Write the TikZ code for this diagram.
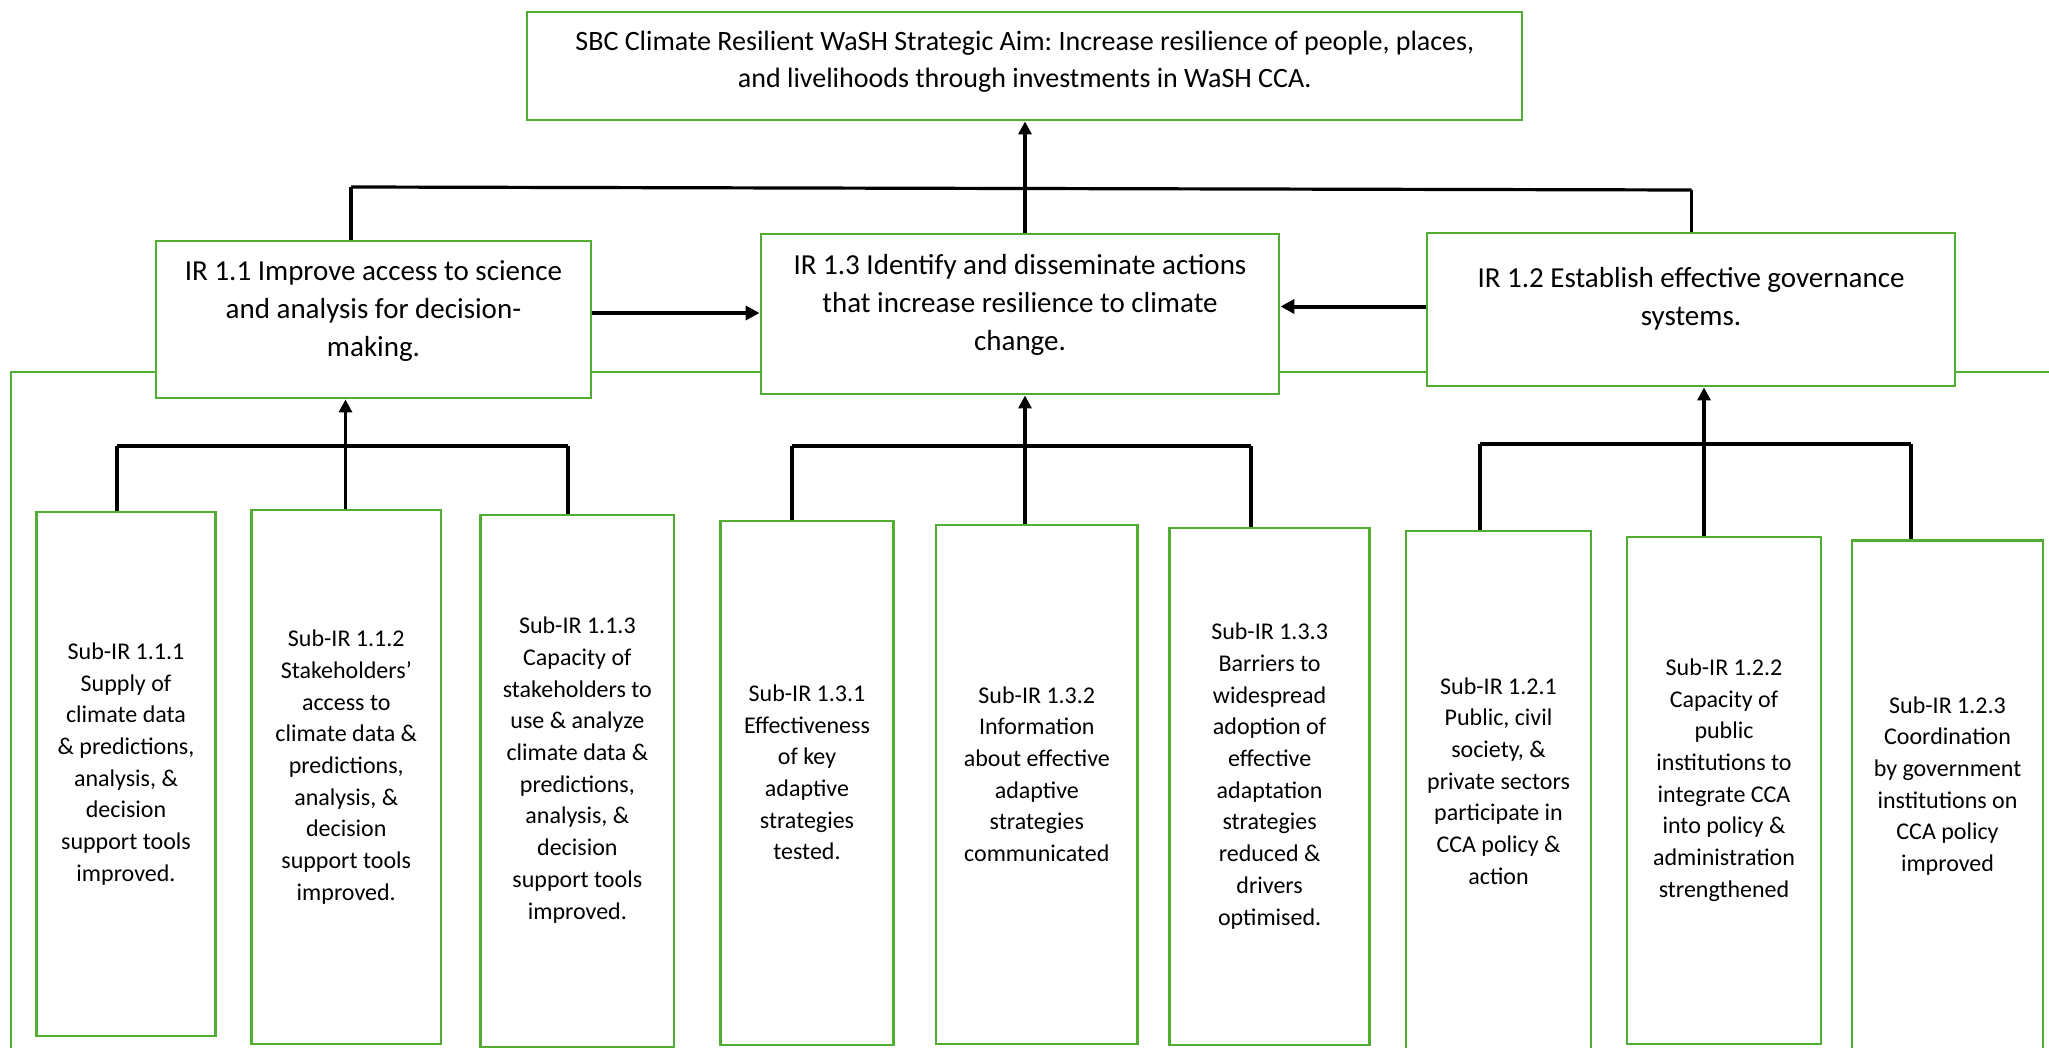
\documentclass[tikz,border=0pt]{standalone}
\usepackage{fontspec}
\setmainfont{Carlito}
\usetikzlibrary{arrows.meta}
\definecolor{boxgreen}{HTML}{52AE33}
\frenchspacing
\begin{document}
\begin{tikzpicture}[x=0.5pt,y=-0.5pt,
  box/.style={draw=boxgreen, line width=1.45pt, fill=white, inner sep=0pt},
  sz/.style 2 args={minimum width=#1*0.5pt, minimum height=#2*0.5pt},
  subtxt/.style={font=\fontsize{12}{15.85}\selectfont, align=center, inner sep=0pt},
  irtxt/.style={font=\fontsize{14.5}{19}\selectfont, align=center, inner sep=0pt},
  toptxt/.style={font=\fontsize{14}{18.4}\selectfont, align=center, inner sep=0pt},
  conn/.style={line width=1.6pt, black},
  harr/.style={line width=2pt, black, -{Triangle[length=7pt,width=7pt]}},
  varr/.style={conn, -{Triangle[length=6.5pt,width=6.5pt]}},
  frame/.style={draw=boxgreen, line width=1.45pt}]
\useasboundingbox (0,0) rectangle (2049,1048);
\fill[white] (0,0) rectangle (2049,1048);
% background green frame
\coordinate (fbl) at (11,1060);
\coordinate (ftl) at (11,372);
\coordinate (ftr) at (2070,372);
\draw[frame] (fbl) -- (ftl) -- (ftr);
% boxes
\node[box, sz={995}{108}] (top) at (1024.5,66) {};
\node[box, sz={435}{157}] (ir11) at (373.5,319.5) {};
\node[box, sz={518}{160}] (ir13) at (1020,314) {};
\node[box, sz={528}{153}] (ir12) at (1691,309.5) {};
\node[box, sz={179}{524}] (s111) at (126,774) {};
\node[box, sz={189.5}{534}] (s112) at (346.25,777) {};
\node[box, sz={193.3}{532}] (s113) at (577.35,781) {};
\node[box, sz={173}{524}] (s131) at (807,783) {};
\node[box, sz={201.6}{519}] (s132) at (1036.8,784.5) {};
\node[box, sz={199.8}{517}] (s133) at (1269.6,786.5) {};
\node[box, sz={185}{529}] (s121) at (1498.5,795.5) {};
\node[box, sz={194}{507}] (s122) at (1724,790.5) {};
\node[box, sz={191}{519.5}] (s123) at (1947.5,800.25) {};
% texts
\node[toptxt] (ttop) at (1024.8,61.9) {SBC Climate Resilient WaSH Strategic Aim: Increase resilience of people, places,\\and livelihoods through investments in WaSH CCA.};
\node[irtxt] (tir11) at (373.5,310.7) {IR 1.1 Improve access to science\\and analysis for decision-\\making.};
\node[irtxt] (tir13) at (1020,304.5) {IR 1.3 Identify and disseminate actions\\that increase resilience to climate\\change.};
\node[irtxt] (tir12) at (1691,298.7) {IR 1.2 Establish effective governance\\systems.};
\node[subtxt] (t111) at (126,764) {Sub-IR 1.1.1\\Supply of\\climate data\\\& predictions,\\analysis, \&\\decision\\support tools\\improved.};
\node[subtxt] (t112) at (346.25,767) {Sub-IR 1.1.2\\Stakeholders’\\access to\\climate data \&\\predictions,\\analysis, \&\\decision\\support tools\\improved.};
\node[subtxt] (t113) at (577.35,770) {Sub-IR 1.1.3\\Capacity of\\stakeholders to\\use \& analyze\\climate data \&\\predictions,\\analysis, \&\\decision\\support tools\\improved.};
\node[subtxt] (t131) at (807,772.5) {Sub-IR 1.3.1\\Effectiveness\\of key\\adaptive\\strategies\\tested.};
\node[subtxt] (t132) at (1036.8,774) {Sub-IR 1.3.2\\Information\\about effective\\adaptive\\strategies\\communicated};
\node[subtxt] (t133) at (1269.6,776) {Sub-IR 1.3.3\\Barriers to\\widespread\\adoption of\\effective\\adaptation\\strategies\\reduced \&\\drivers\\optimised.};
\node[subtxt] (t121) at (1498.5,781) {Sub-IR 1.2.1\\Public, civil\\society, \&\\private sectors\\participate in\\CCA policy \&\\action};
\node[subtxt] (t122) at (1724,780) {Sub-IR 1.2.2\\Capacity of\\public\\institutions to\\integrate CCA\\into policy \&\\administration\\strengthened};
\node[subtxt] (t123) at (1947.5,786) {Sub-IR 1.2.3\\Coordination\\by government\\institutions on\\CCA policy\\improved};
% top tier connectors
\coordinate (jL) at (351,190);
\coordinate (jM) at (1025,190);
\coordinate (jR) at (1691.5,190);
\draw[conn] (jL |- 0,187) -- (jR);
\draw[conn] (jL |- 0,187) -- (jL |- ir11.north);
\draw[conn] (jM) -- (jM |- ir13.north);
\draw[conn] (jR) -- (jR |- ir12.north);
\draw[varr] (jM) -- (jM |- top.south);
% horizontal arrows
\coordinate (h1) at (0,313);
\coordinate (h2) at (0,306.5);
\draw[harr] (ir11.east |- h1) -- (ir13.west |- h1);
\draw[harr] (ir12.west |- h2) -- (ir13.east |- h2);
% group 1
\coordinate (g1a) at (117,446);
\coordinate (g1b) at (345.5,446);
\coordinate (g1c) at (568,446);
\draw[conn] (g1a) -- (g1c);
\draw[conn] (g1a) -- (g1a |- s111.north);
\draw[conn] (g1b) -- (g1b |- s112.north);
\draw[conn] (g1c) -- (g1c |- s113.north);
\draw[varr] (g1b) -- (g1b |- ir11.south);
% group 2
\coordinate (g2a) at (792,446);
\coordinate (g2b) at (1025,446);
\coordinate (g2c) at (1251,446);
\draw[conn] (g2a) -- (g2c);
\draw[conn] (g2a) -- (g2a |- s131.north);
\draw[conn] (g2b) -- (g2b |- s132.north);
\draw[conn] (g2c) -- (g2c |- s133.north);
\draw[varr] (g2b) -- (g2b |- ir13.south);
% group 3
\coordinate (g3a) at (1480,444);
\coordinate (g3b) at (1704,444);
\coordinate (g3c) at (1911,444);
\draw[conn] (g3a) -- (g3c);
\draw[conn] (g3a) -- (g3a |- s121.north);
\draw[conn] (g3b) -- (g3b |- s122.north);
\draw[conn] (g3c) -- (g3c |- s123.north);
\draw[varr] (g3b) -- (g3b |- ir12.south);
\end{tikzpicture}
\end{document}
